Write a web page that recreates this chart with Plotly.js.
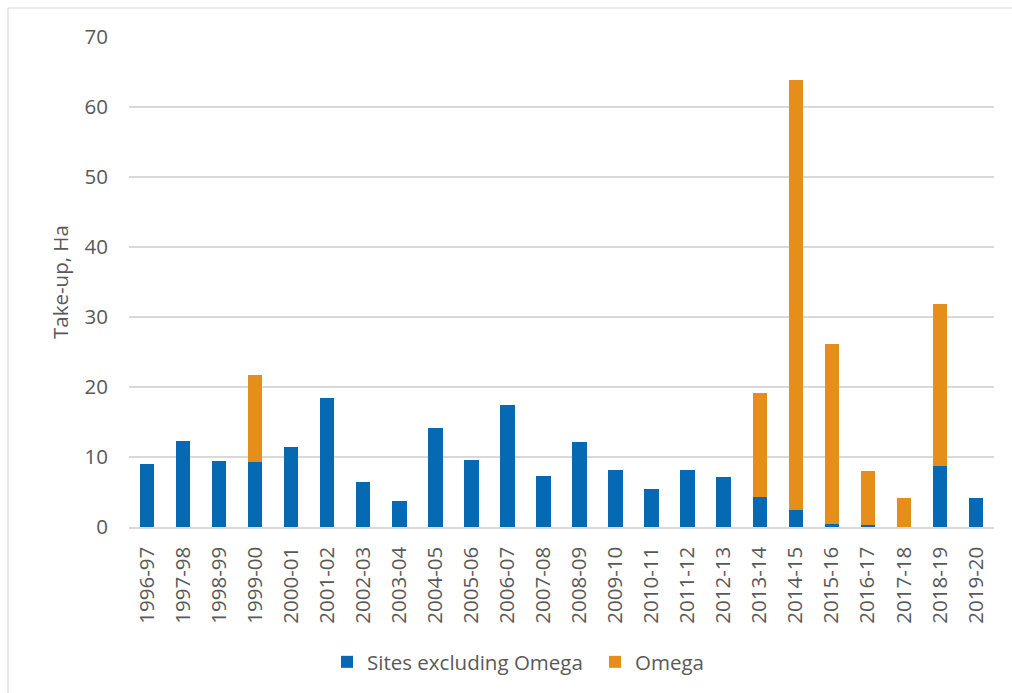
<!DOCTYPE html>
<html>
<head>
<meta charset="utf-8">
<script src="https://cdn.plot.ly/plotly-3.0.1.min.js"></script>
<style>html,body{margin:0;padding:0;background:#fff;}#chart{width:1012px;height:693px;}</style>
</head>
<body>
<div id="chart"></div>
<script>
const categories = ["1996-97","1997-98","1998-99","1999-00","2000-01","2001-02","2002-03","2003-04","2004-05","2005-06","2006-07","2007-08","2008-09","2009-10","2010-11","2011-12","2012-13","2013-14","2014-15","2015-16","2016-17","2017-18","2018-19","2019-20"];
const sitesExclOmega = [9.0,12.3,9.4,9.3,11.5,18.5,6.4,3.7,14.1,9.6,17.5,7.3,12.2,8.1,5.5,8.1,7.1,4.3,2.5,0.4,0.3,0,8.7,4.1];
const omega = [0,0,0,12.4,0,0,0,0,0,0,0,0,0,0,0,0,0,14.9,61.3,25.8,7.7,4.2,23.1,0];
const yTicks = [0,10,20,30,40,50,60,70];

const W = 1012, H = 693;
const mL = 129, mR = 18, mT = 37, mB = 166;
const pw = W - mL - mR, ph = H - mT - mB;
const px = v => (v - mL) / pw;
const py = v => (H - mB - v) / ph;

const font = {family: "Open Sans, sans-serif", size: 20.5, color: "#595959"};

const traces = [
  {type: "bar", name: "Sites excluding Omega", x: categories, y: sitesExclOmega,
   marker: {color: "#0569B4", line: {width: 0}}, hoverinfo: "x+y"},
  {type: "bar", name: "Omega", x: categories, y: omega,
   marker: {color: "#E58E1A", line: {width: 0}}, hoverinfo: "x+y"}
];

const layout = {
  width: W, height: H,
  margin: {l: mL, r: mR, t: mT, b: mB, autoexpand: false},
  paper_bgcolor: "#fff", plot_bgcolor: "#fff",
  barmode: "stack", bargap: 0.6,
  font: font,
  showlegend: true,
  legend: {orientation: "h", x: px(327), xanchor: "left", y: py(662), yanchor: "middle",
           font: font, itemwidth: 30, traceorder: "normal", tracegroupgap: 0,
           entrywidth: 223, entrywidthmode: "pixels"},
  xaxis: {type: "category", tickangle: -90, showgrid: false, zeroline: false,
          showline: true, linecolor: "#d9d9d9", linewidth: 1.5, ticks: "",
          ticklabelstandoff: 10, tickfont: font, automargin: false, fixedrange: true},
  yaxis: {range: [0, 70], tickvals: yTicks, ticktext: yTicks.map(String),
          showgrid: true, gridcolor: "#d9d9d9", gridwidth: 1.5, zeroline: false,
          showline: false, ticks: "", ticklabelstandoff: 20, tickfont: font,
          automargin: false, fixedrange: true},
  annotations: [
    {text: "Take-up, Ha", xref: "paper", yref: "paper", x: px(60), y: py(282),
     xanchor: "center", yanchor: "middle", textangle: -90, showarrow: false,
     font: font}
  ],
  shapes: [
    {type: "line", xref: "paper", yref: "paper", x0: px(8), x1: px(1012), y0: py(8), y1: py(8),
     line: {color: "#d9d9d9", width: 1.2}},
    {type: "line", xref: "paper", yref: "paper", x0: px(8), x1: px(8), y0: py(8), y1: py(693),
     line: {color: "#d9d9d9", width: 1.2}}
  ]
};

Plotly.newPlot("chart", traces, layout, {displayModeBar: false, staticPlot: true});
</script>
</body>
</html>
